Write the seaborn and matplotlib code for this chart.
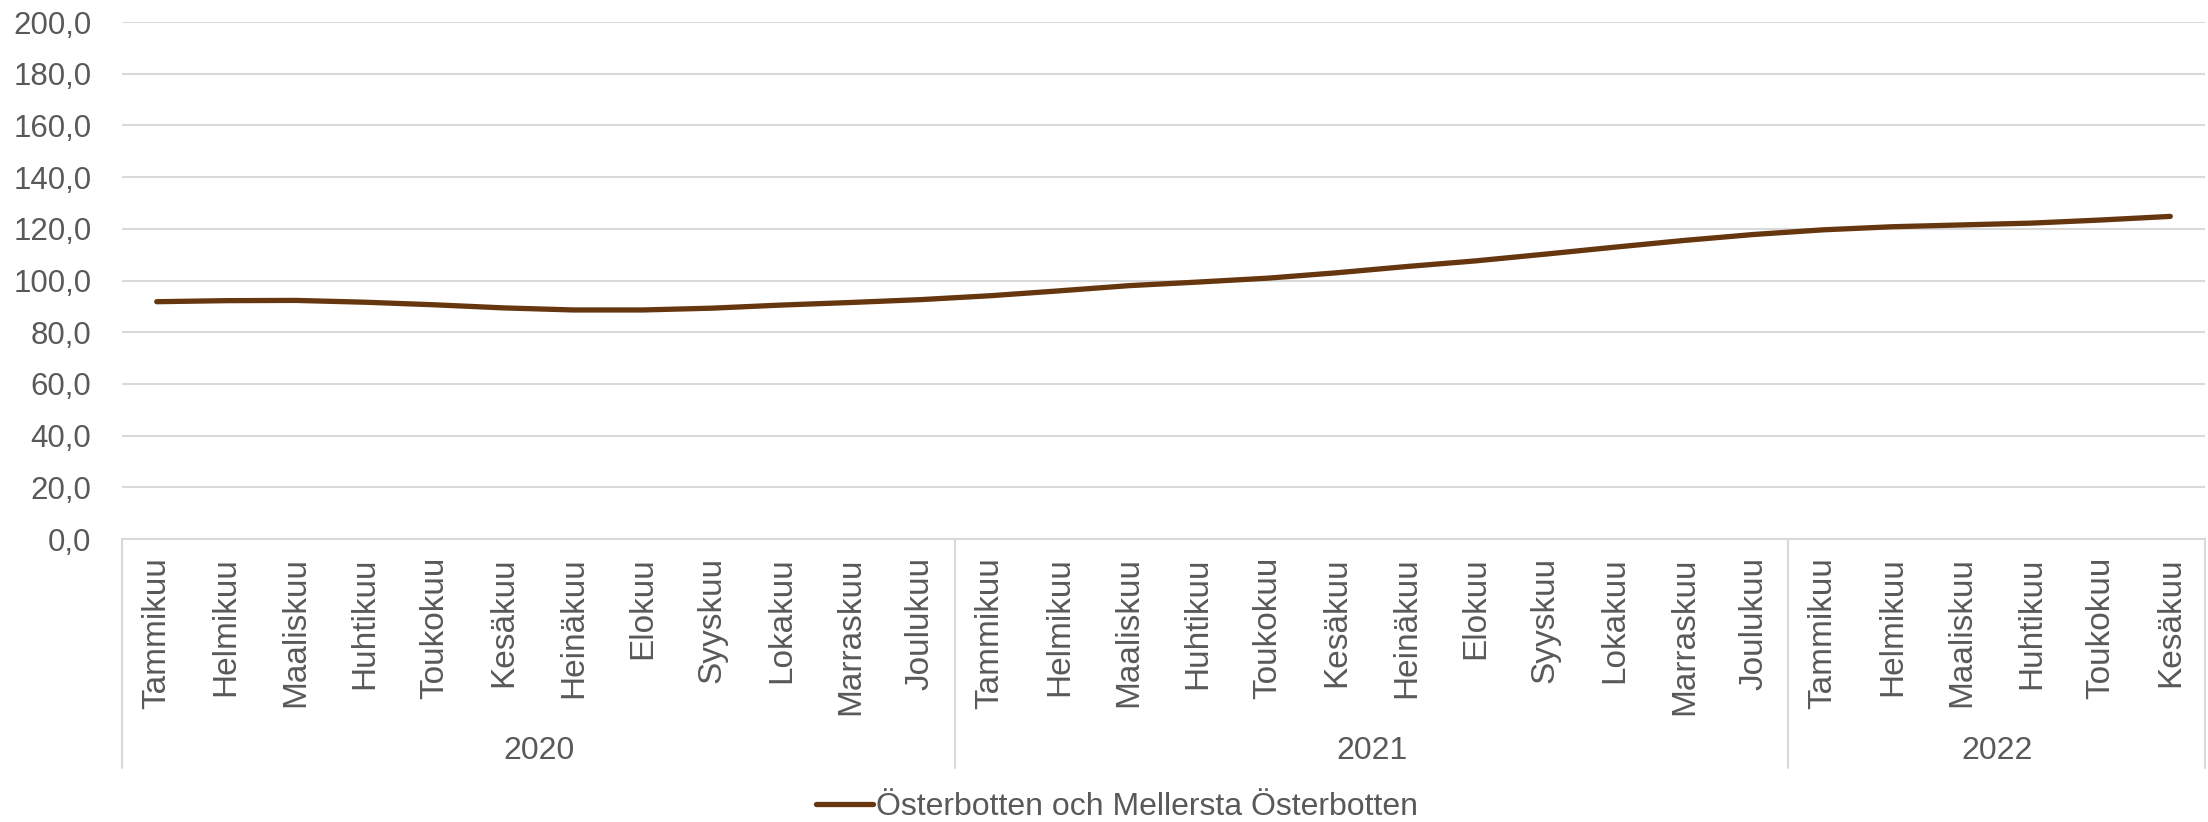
import numpy as np
import pandas as pd
import seaborn as sns
from matplotlib import pyplot as plt
from matplotlib.ticker import FuncFormatter

months_2020 = ["Tammikuu", "Helmikuu", "Maaliskuu", "Huhtikuu", "Toukokuu", "Kesäkuu",
               "Heinäkuu", "Elokuu", "Syyskuu", "Lokakuu", "Marraskuu", "Joulukuu"]
months_2021 = months_2020
months_2022 = ["Tammikuu", "Helmikuu", "Maaliskuu", "Huhtikuu", "Toukokuu", "Kesäkuu"]
years = ["2020", "2021", "2022"]

values_2020 = [91.8, 92.2, 92.3, 91.6, 90.6, 89.4, 88.6, 88.6, 89.3, 90.5, 91.5, 92.6]
values_2021 = [94.1, 96.0, 98.0, 99.4, 100.9, 103.0, 105.4, 107.6, 110.2, 112.9, 115.5, 117.8]
values_2022 = [119.6, 120.8, 121.5, 122.2, 123.4, 124.8]

series_name = "Österbotten och Mellersta Österbotten"

groups = [months_2020, months_2021, months_2022]
df = pd.DataFrame({
    "month": months_2020 + months_2021 + months_2022,
    "year": [y for y, g in zip(years, groups) for _ in g],
    "value": values_2020 + values_2021 + values_2022,
})
df["pos"] = np.arange(len(df))

sns.set_theme(style="white")
plt.rcParams["font.family"] = ["Liberation Sans", "DejaVu Sans"]
text_color = "#595959"
grid_color = "#d9d9d9"

fig = plt.figure(figsize=(22.08, 8.22), dpi=100)
ax = fig.add_axes([122 / 2208, 1 - 539 / 822, (2205 - 122) / 2208, (539 - 22) / 822])

sns.lineplot(data=df, x="pos", y="value", color="#66360f", linewidth=3.8,
             solid_capstyle="round", label=series_name, ax=ax)

ax.set_ylim(0, 200)
ax.set_yticks(np.arange(0, 201, 20))
ax.yaxis.set_major_formatter(FuncFormatter(lambda v, p: f"{v:.1f}".replace(".", ",")))
ax.set_xlim(-0.5, len(df) - 0.5)
ax.set_xticks(df["pos"])
ax.set_xticklabels(df["month"], rotation=90, va="top", ha="center")
ax.tick_params(axis="x", length=0, pad=13, labelsize=24, labelcolor=text_color)
ax.tick_params(axis="y", length=0, pad=22, labelsize=22.5, labelcolor=text_color)
ax.yaxis.grid(True, color=grid_color, linewidth=1.5)
ax.set_xlabel("")
ax.set_ylabel("")
for side in ["top", "right", "left"]:
    ax.spines[side].set_visible(False)
ax.spines["bottom"].set_color(grid_color)
ax.spines["bottom"].set_linewidth(1.5)

# year level of the category axis
trans = ax.get_xaxis_transform()
sep_bottom = -(768 - 539) / (539 - 22)
start = 0
bounds = [-0.5]
for year, g in zip(years, groups):
    ax.text(start + (len(g) - 1) / 2, -(751 - 539) / (539 - 22), year, transform=trans,
            ha="center", va="center", fontsize=23, color=text_color)
    start += len(g)
    bounds.append(start - 0.5)
for b in bounds:
    ax.plot([b, b], [0, sep_bottom], transform=trans, color=grid_color, linewidth=1.5,
            clip_on=False)

ax.legend(loc="center", bbox_to_anchor=(1117 / 2208, 1 - 807 / 822),
          bbox_transform=fig.transFigure, frameon=False, fontsize=23,
          handlelength=1.8, handletextpad=0.1, labelcolor=text_color)

fig.savefig("out.png", dpi=100)
